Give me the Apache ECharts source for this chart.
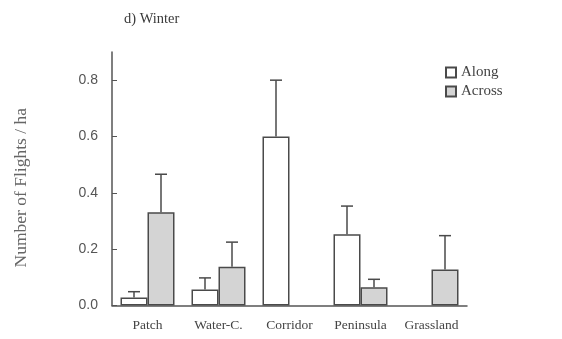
<!DOCTYPE html>
<html>
<head>
<meta charset="utf-8">
<script src="https://cdn.jsdelivr.net/npm/echarts@6/dist/echarts.min.js"></script>
<style>html,body{margin:0;padding:0;background:#fff}#c{width:562px;height:339px}</style>
</head>
<body>
<div id="c"></div>
<script>
var categories = ['Patch', 'Water-C.', 'Corridor', 'Peninsula', 'Grassland'];
var alongMean = [0.028, 0.057, 0.60, 0.253, null];
var alongUpper = [0.049, 0.098, 0.80, 0.353, null];
var acrossMean = [0.331, 0.138, null, 0.065, 0.128];
var acrossUpper = [0.466, 0.225, null, 0.093, 0.248];
var yTicks = [0, 0.2, 0.4, 0.6, 0.8];

var BAR_W = 27;
function errData(means, uppers) {
  var out = [];
  for (var i = 0; i < categories.length; i++) {
    if (means[i] != null && uppers[i] != null) out.push([i, means[i], uppers[i]]);
  }
  return out;
}
function errRender(offset) {
  return function (params, api) {
    var c = api.value(0);
    var p0 = api.coord([c, api.value(1)]);
    var p1 = api.coord([c, api.value(2)]);
    var x = p0[0] + offset;
    var half = 6;
    var st = { stroke: '#4a4a4a', lineWidth: 1.5 };
    return {
      type: 'group',
      children: [
        { type: 'line', shape: { x1: x, y1: p0[1], x2: x, y2: p1[1] }, style: st },
        { type: 'line', shape: { x1: x - half, y1: p1[1], x2: x + half, y2: p1[1] }, style: st }
      ]
    };
  };
}

var chart = echarts.init(document.getElementById('c'));
chart.setOption({
  animation: false,
  backgroundColor: '#fff',
  title: {
    text: 'd) Winter',
    left: 119, top: 7,
    textStyle: { fontFamily: 'Liberation Serif', fontSize: 14.5, fontWeight: 'normal', color: '#3a3a3a' }
  },
  legend: {
    data: ['Along', 'Across'],
    orient: 'vertical',
    left: 440, top: 60,
    itemWidth: 10, itemHeight: 10, itemGap: 4,
    icon: 'rect',
    textStyle: { fontFamily: 'Liberation Serif', fontSize: 15, color: '#444' }
  },
  grid: { left: 112, right: 95, top: 52, bottom: 33.5, containLabel: false },
  xAxis: {
    type: 'category',
    data: categories,
    axisLine: { lineStyle: { color: '#555', width: 1.5 } },
    axisTick: { alignWithLabel: true, length: 6, lineStyle: { color: '#555', width: 1.2 } },
    axisLabel: { fontFamily: 'Liberation Serif', fontSize: 13.5, color: '#444', margin: 13 }
  },
  yAxis: {
    type: 'value',
    min: 0, max: 0.9,
    name: 'Number of Flights / ha',
    nameLocation: 'middle',
    nameGap: 82,
    nameTextStyle: { fontFamily: 'Liberation Serif', fontSize: 17.5, color: '#666', padding: [0, 18, 0, 0] },
    axisLine: { show: true, lineStyle: { color: '#555', width: 1.5 } },
    axisTick: { show: true, inside: true, length: 5, customValues: yTicks, lineStyle: { color: '#555' } },
    axisLabel: {
      customValues: yTicks,
      fontFamily: 'Liberation Sans', fontSize: 14, color: '#555', margin: 14,
      formatter: function (v) { return v.toFixed(1); }
    },
    splitLine: { show: false }
  },
  series: [
    {
      name: 'Along', type: 'bar', data: alongMean,
      barWidth: BAR_W, barGap: '0%',
      itemStyle: { color: '#ffffff', borderColor: '#4a4a4a', borderWidth: 1.5 }
    },
    {
      name: 'Across', type: 'bar', data: acrossMean,
      barWidth: BAR_W, barGap: '0%',
      itemStyle: { color: '#d4d4d4', borderColor: '#4a4a4a', borderWidth: 1.5 }
    },
    {
      name: 'AlongErr', type: 'custom', renderItem: errRender(-BAR_W / 2),
      data: errData(alongMean, alongUpper), z: 3, silent: true
    },
    {
      name: 'AcrossErr', type: 'custom', renderItem: errRender(BAR_W / 2),
      data: errData(acrossMean, acrossUpper), z: 3, silent: true
    }
  ]
});
</script>
</body>
</html>
